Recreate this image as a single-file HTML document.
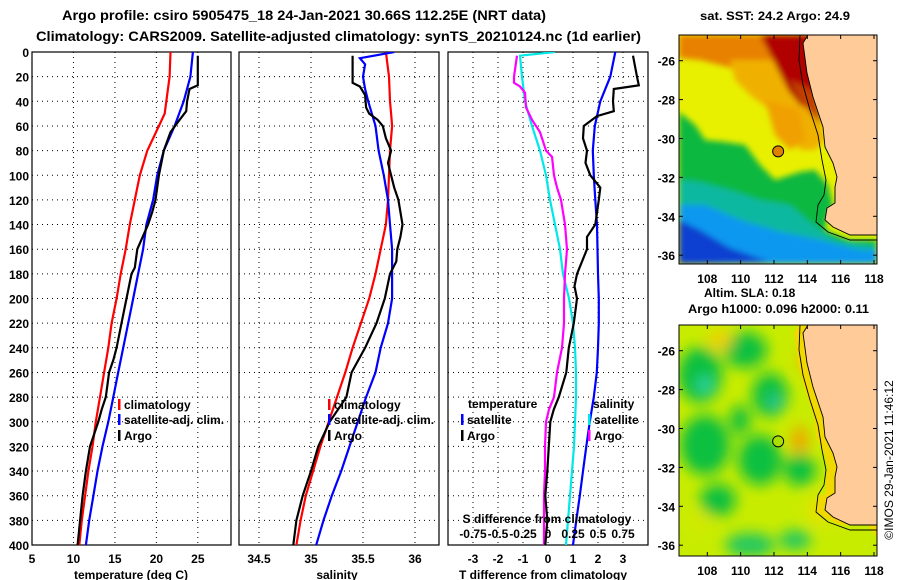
<!DOCTYPE html>
<html><head><meta charset="utf-8">
<style>
html,body{margin:0;padding:0;background:#fff;}
svg{display:block;font-family:"Liberation Sans",Arial,sans-serif;font-weight:bold;}
</style></head>
<body>
<svg id="fig" width="900" height="580" viewBox="0 0 900 580" xmlns="http://www.w3.org/2000/svg">
<defs>
<clipPath id="c1"><rect x="679" y="35" width="198" height="229"/></clipPath>
<clipPath id="c2"><rect x="679" y="325" width="198" height="231"/></clipPath>
<filter id="blur" x="-20%" y="-20%" width="140%" height="140%"><feGaussianBlur stdDeviation="7"/></filter>
<filter id="blur2" x="-20%" y="-20%" width="140%" height="140%"><feGaussianBlur stdDeviation="3"/></filter>
<clipPath id="p1c"><rect x="32" y="52" width="199" height="493"/></clipPath>
<clipPath id="p2c"><rect x="239" y="52" width="200" height="493"/></clipPath>
<clipPath id="p3c"><rect x="448" y="52" width="200" height="493"/></clipPath>
</defs>
<text x="62" y="20" font-size="14" textLength="484" lengthAdjust="spacingAndGlyphs">Argo profile: csiro 5905475_18 24-Jan-2021 30.66S 112.25E (NRT data)</text>
<text x="36" y="41" font-size="14" textLength="605" lengthAdjust="spacingAndGlyphs">Climatology: CARS2009. Satellite-adjusted climatology: synTS_20210124.nc (1d earlier)</text>
<text x="700" y="20" font-size="12" textLength="150" lengthAdjust="spacingAndGlyphs">sat. SST: 24.2 Argo: 24.9</text>
<text x="704" y="297" font-size="12">Altim. SLA: 0.18</text>
<text x="688" y="313" font-size="12" textLength="181" lengthAdjust="spacingAndGlyphs">Argo h1000: 0.096 h2000: 0.11</text>
<text transform="translate(893,460) rotate(-90)" text-anchor="middle" font-size="12" font-weight="normal">©IMOS 29-Jan-2021 11:46:12</text>
<g id="g1"></g><g id="g2"></g><g id="g3"></g><g id="maps"></g>
</svg>
<script>
// ---- Data ----
const depthTicks = [0,20,40,60,80,100,120,140,160,180,200,220,240,260,280,300,320,340,360,380,400];
const tempTicks = [5,10,15,20,25];
const salTicks = [34.5,35,35.5,36];
const tdiffTicks = [-3,-2,-1,0,1,2,3];
const sdiffTicks = [-0.75,-0.5,-0.25,0,0.25,0.5,0.75];
const sdiffTickLabels = ["-0.75","-0.5","-0.25","0","0.25","0.5","0.75"];

const climDepth = [0,20,40,50,60,80,100,120,140,160,180,200,220,240,260,280,300,320,340,360,380,400];
const climTemp = [21.7,21.6,21.2,21.0,20.3,18.9,18.0,17.4,16.8,16.3,15.7,15.2,14.6,14.2,13.7,13.2,12.7,12.3,11.8,11.4,11.0,10.7];
const climSal = [35.72,35.75,35.76,35.77,35.78,35.76,35.75,35.74,35.72,35.67,35.62,35.56,35.48,35.40,35.33,35.25,35.17,35.09,35.02,34.95,34.90,34.86];

const satTempDepth = [0,20,40,60,80,100,120,140,160,180,200,220,240,260,280,300,320,340,360,380,400];
const satTemp = [24.4,24.1,23.3,22.2,20.9,20.1,19.6,18.8,18.4,17.8,17.2,16.6,16.0,15.4,14.8,14.2,13.5,12.9,12.4,11.9,11.5];
const argoTempDepth = [3,27,30,40,48,55,65,80,100,120,130,140,160,175,180,200,220,240,250,260,280,290,300,320,340,360,380,400];
const argoTemp = [25.0,25.0,24.0,23.7,23.6,22.8,21.7,20.9,20.3,19.9,19.5,19.0,17.7,17.4,17.0,16.4,15.8,15.2,14.8,14.3,13.9,13.4,13.0,12.0,11.5,11.1,10.8,10.5];

const satSalDepth = [0,5,10,20,30,40,60,80,100,120,140,160,180,200,220,240,260,280,300,320,340,360,380,400];
const satSal = [35.80,35.47,35.52,35.50,35.52,35.55,35.62,35.65,35.70,35.74,35.76,35.78,35.78,35.78,35.74,35.67,35.62,35.53,35.45,35.37,35.29,35.20,35.12,35.05];
const argoSalDepth = [3,25,28,35,45,50,55,60,70,80,90,100,110,120,140,150,160,170,180,200,220,240,260,280,300,320,340,360,380,400];
const argoSal = [35.40,35.40,35.47,35.52,35.53,35.56,35.64,35.69,35.72,35.77,35.74,35.77,35.80,35.84,35.88,35.86,35.83,35.82,35.76,35.71,35.63,35.52,35.39,35.34,35.18,35.07,35.00,34.92,34.86,34.83];

const satTdiffDepth = [0,20,40,60,80,100,120,140,160,180,200,220,240,260,280,300,320,340,360,380,400];
const satTdiff = [2.69,2.49,2.09,1.87,1.79,1.83,1.89,1.96,1.98,2.0,2.03,2.03,2.0,1.95,1.83,1.67,1.53,1.40,1.27,1.13,1.0];
const argoTdiffDepth = [3,20,27,30,40,48,52,60,70,80,90,100,110,120,140,150,160,180,190,200,220,240,260,280,290,300,320,340,360,380,400];
const argoTdiff = [3.4,3.56,3.63,2.63,2.6,2.63,1.96,1.43,1.4,1.56,1.5,1.69,2.09,2.03,1.89,1.56,1.56,1.16,1.06,1.16,1.03,0.83,0.73,0.43,0.23,0.09,0.03,-0.03,-0.11,-0.03,-0.11];
const satSdiffDepth = [0,3,20,40,60,80,100,120,140,160,180,200,220,240,260,280,300,320,340,360,380,400];
const satSdiff = [0.07,-0.28,-0.26,-0.23,-0.16,-0.08,-0.02,0.02,0.07,0.12,0.15,0.21,0.25,0.27,0.28,0.28,0.27,0.26,0.24,0.22,0.20,0.18];
const argoSdiffDepth = [3,20,25,28,33,45,50,55,65,80,85,100,110,120,140,160,180,200,220,240,260,280,290,300,320,340,360,380,400];
const argoSdiff = [-0.31,-0.34,-0.34,-0.28,-0.23,-0.22,-0.19,-0.16,-0.08,-0.02,0.04,0.06,0.09,0.13,0.17,0.19,0.17,0.16,0.16,0.14,0.09,0.06,0.01,-0.02,-0.03,-0.03,-0.04,-0.04,-0.04];

const lonTicks = [108,110,112,114,116,118];
const latTicks = [-26,-28,-30,-32,-34,-36];
const argoLon = 112.25, argoLat = -30.66;

// ---- Helpers ----
const NS = "http://www.w3.org/2000/svg";
function mk(tag, parent, attrs){
  const e = document.createElementNS(NS, tag);
  for (const k in attrs) e.setAttribute(k, attrs[k]);
  parent.appendChild(e);
  return e;
}
const Y0 = 52, Y1 = 545;
function yD(d){ return Y0 + d/400*(Y1-Y0); }
function linScale(d0,d1,r0,r1){ return v => r0 + (v-d0)/(d1-d0)*(r1-r0); }

function frame(g, x0, x1, name, ticks, xs, tickLabels, yLabels){
  for (const d of depthTicks){
    const l = mk('line', g, {x1:x0, x2:x1, y1:yD(d), y2:yD(d), stroke:'#000', 'stroke-width':1, 'stroke-dasharray':'1,4'});
    
    
    if (yLabels){
      const t = mk('text', g, {x:x0-3, y:yD(d)+5, 'text-anchor':'end', 'font-size':12});
      t.textContent = d;
      
      
    }
  }
  ticks.forEach((v,i) => {
    const x = xs(v);
    const l = mk('line', g, {x1:x, x2:x, y1:Y0, y2:Y1, stroke:'#000', 'stroke-width':1, 'stroke-dasharray':'1,4'});
    
    
    const t = mk('text', g, {x:x, y:563, 'text-anchor':'middle', 'font-size':12});
    t.textContent = tickLabels[i];
    
    
  });
  const r = mk('rect', g, {x:x0, y:Y0, width:x1-x0, height:Y1-Y0, fill:'none', stroke:'#000', 'stroke-width':1.2});
  
  
}
function series(g, depths, vals, xs, color, name, clipId){
  const pts = depths.map((d,i) => xs(vals[i]).toFixed(1) + ',' + yD(d).toFixed(1)).join(' ');
  const p = mk('polyline', g, {points:pts, fill:'none', stroke:color, 'stroke-width':2.2, 'clip-path':'url(#'+clipId+')'});
  
  
}
function legendItem(g, x, y, color, label, name){
  const b = mk('rect', g, {x:x, y:y-10, width:2.5, height:11, fill:color});
  
  
  const t = mk('text', g, {x:x+6, y:y, 'font-size':12});
  t.textContent = label;
  
  
}
function axisTitle(g, x, y, txt, name){
  const t = mk('text', g, {x:x, y:y, 'text-anchor':'middle', 'font-size':12});
  t.textContent = txt;
  
  
}

// ---- Panel 1: temperature ----
const g1 = document.getElementById('g1');
const xT = linScale(5, 29, 32, 231);
frame(g1, 32, 231, 'temperature-panel', tempTicks, xT, tempTicks, true);
series(g1, climDepth, climTemp, xT, '#ff0000', 'temp-climatology-line', 'p1c');
series(g1, satTempDepth, satTemp, xT, '#0000ff', 'temp-satellite-line', 'p1c');
series(g1, argoTempDepth, argoTemp, xT, '#000000', 'temp-argo-line', 'p1c');
legendItem(g1, 118, 409, '#ff0000', 'climatology', 'temp-legend-climatology');
legendItem(g1, 118, 424, '#0000ff', 'satellite-adj. clim.', 'temp-legend-satellite');
legendItem(g1, 118, 440, '#000000', 'Argo', 'temp-legend-argo');
axisTitle(g1, 131, 579, 'temperature (deg C)', 'temperature-axis-title');

// ---- Panel 2: salinity ----
const g2 = document.getElementById('g2');
const xS = linScale(34.5, 36, 259, 415);
frame(g2, 239, 439, 'salinity-panel', salTicks, xS, salTicks, false);
series(g2, climDepth, climSal, xS, '#ff0000', 'sal-climatology-line', 'p2c');
series(g2, satSalDepth, satSal, xS, '#0000ff', 'sal-satellite-line', 'p2c');
series(g2, argoSalDepth, argoSal, xS, '#000000', 'sal-argo-line', 'p2c');
legendItem(g2, 328, 409, '#ff0000', 'climatology', 'sal-legend-climatology');
legendItem(g2, 328, 424, '#0000ff', 'satellite-adj. clim.', 'sal-legend-satellite');
legendItem(g2, 328, 440, '#000000', 'Argo', 'sal-legend-argo');
axisTitle(g2, 337, 579, 'salinity', 'salinity-axis-title');

// ---- Panel 3: differences ----
const g3 = document.getElementById('g3');
const xTd = linScale(-4, 4, 448, 648);
const xSd = linScale(-1, 1, 448, 648);
frame(g3, 448, 648, 'difference-panel', tdiffTicks, xTd, tdiffTicks, false);
series(g3, satTdiffDepth, satTdiff, xTd, '#0000ff', 'tdiff-satellite-line', 'p3c');
series(g3, satSdiffDepth, satSdiff, xSd, '#00e8e8', 'sdiff-satellite-line', 'p3c');
series(g3, argoSdiffDepth, argoSdiff, xSd, '#ff00ff', 'sdiff-argo-line', 'p3c');
series(g3, argoTdiffDepth, argoTdiff, xTd, '#000000', 'tdiff-argo-line', 'p3c');
{
  const t = mk('text', g3, {x:468, y:408, 'font-size':12}); t.textContent='temperature';
  
  
  const s = mk('text', g3, {x:593, y:408, 'font-size':12}); s.textContent='salinity';
  
  
}
legendItem(g3, 461, 424, '#0000ff', 'satellite', 'tdiff-legend-satellite');
legendItem(g3, 461, 440, '#000000', 'Argo', 'tdiff-legend-argo');
legendItem(g3, 588, 424, '#00e8e8', 'satellite', 'sdiff-legend-satellite');
legendItem(g3, 588, 440, '#ff00ff', 'Argo', 'sdiff-legend-argo');
axisTitle(g3, 547, 523, 'S difference from climatology', 'sdiff-axis-title');
sdiffTicks.forEach((v,i) => {
  const t = mk('text', g3, {x:xSd(v), y:538, 'text-anchor':'middle', 'font-size':12});
  t.textContent = sdiffTickLabels[i];
  
  
});
axisTitle(g3, 543, 579, 'T difference from climatology', 'tdiff-axis-title');

// ---- Maps ----
const gm = document.getElementById('maps');
const lonX = linScale(108, 118, 707.3, 874);
function latY(lat, off){ return off + 60.7 + (-26 - lat)*19.45; }
const coastLine = [[808,35],[803,43],[807,73],[813,97],[823,127],[825,147],[833,163],[837,177],[835,187],[835,203],[827,208],[825,220],[833,227],[850,235],[877,235]];
const coast = coastLine.concat([[877,35]]);
const isobath = [[800,35],[799,60],[803,85],[810,110],[818,135],[822,160],[826,180],[824,195],[818,205],[816,222],[828,232],[850,240],[877,240]];
function poly(g, pts, off, fill, name, extra){
  const p = mk('polygon', g, Object.assign({points: pts.map(q => q[0]+','+(q[1]+off)).join(' '), fill: fill}, extra||{}));
  
  
  return p;
}
function pline(g, pts, off, name){
  const p = mk('polyline', g, {points: pts.map(q => q[0]+','+(q[1]+off)).join(' '), fill:'none', stroke:'#000', 'stroke-width':0.9});
  
  
}
function mapAxes(off, top, bot, name){
  const r = mk('rect', gm, {x:679, y:top, width:198, height:bot-top, fill:'none', stroke:'#000', 'stroke-width':1});
  
  
  for (const lo of lonTicks){
    const x = lonX(lo);
    mk('line', gm, {x1:x, x2:x, y1:top, y2:top+4, stroke:'#000'});
    mk('line', gm, {x1:x, x2:x, y1:bot, y2:bot-4, stroke:'#000'});
    const t = mk('text', gm, {x:x, y:bot+19, 'text-anchor':'middle', 'font-size':12});
    t.textContent = lo;
    
    
  }
  for (const la of latTicks){
    const y = latY(la, off);
    mk('line', gm, {x1:679, x2:683, y1:y, y2:y, stroke:'#000'});
    mk('line', gm, {x1:877, x2:873, y1:y, y2:y, stroke:'#000'});
    const t = mk('text', gm, {x:675, y:y+5, 'text-anchor':'end', 'font-size':12});
    t.textContent = la;
    
    
  }
  const c = mk('circle', gm, {cx:lonX(argoLon), cy:latY(argoLat, off), r:5.5, fill: off ? '#a8e000' : '#e08000', stroke:'#000', 'stroke-width':1});
  
  
}
// SST map
{
  const g = mk('g', gm, {'clip-path':'url(#c1)'});
  
  
  mk('rect', g, {x:679, y:35, width:198, height:229, fill:'#e8f000'});
  const s = mk('g', g, {filter:'url(#blur2)'});
  poly(s, [[679,35],[810,35],[810,60],[760,62],[740,70],[700,60],[679,58]], 0, '#e88000', 'sst-orange-top');
  poly(s, [[730,60],[790,60],[815,95],[825,140],[815,150],[800,150],[790,130],[770,110],[750,95],[735,80]], 0, '#f0b000', 'sst-warm-region');
  poly(s, [[765,100],[800,110],[805,140],[790,150],[775,135]], 0, '#f0a000', 'sst-warm-patch');
  poly(s, [[760,35],[812,35],[818,90],[812,110],[800,105],[788,90],[778,70],[768,50]], 0, '#b00000', 'sst-hot-region');
  poly(s, [[790,80],[816,92],[822,125],[812,115],[800,100]], 0, '#c04000', 'sst-coastal-warm');
  poly(s, [[679,112],[695,125],[705,140],[725,142],[745,145],[760,165],[775,180],[800,172],[815,170],[828,185],[833,205],[828,215],[825,230],[850,240],[877,240],[877,264],[679,264]], 0, '#10b840', 'sst-green-region');
  poly(s, [[679,180],[700,182],[730,190],[760,200],[790,205],[810,222],[835,240],[877,246],[877,264],[679,264]], 0, '#10b8a0', 'sst-teal-region');
  poly(s, [[679,205],[705,205],[740,220],[780,232],[820,240],[860,250],[877,250],[877,264],[679,264]], 0, '#1098f0', 'sst-cyan-region');
  poly(s, [[679,220],[700,230],[730,248],[770,262],[679,264]], 0, '#1040d0', 'sst-blue-region');
  poly(g, coast, 0, '#ffcc99', 'sst-land');
  pline(g, isobath, 0, 'sst-isobath');
  pline(g, coastLine, 0, 'sst-coastline');
}
mapAxes(0, 35, 264, 'sst-map');
// SLA map
{
  const off = 290;
  const g = mk('g', gm, {'clip-path':'url(#c2)'});
  
  
  mk('rect', g, {x:679, y:325, width:198, height:231, fill:'#c8ec00'});
  const blobs = g.appendChild(document.createElementNS(NS,'g'));
  blobs.setAttribute('filter', 'url(#blur)');
  const bl = [[700,375,22,28,'#10c040'],[705,445,25,30,'#10c040'],[745,350,22,18,'#10c040'],[770,395,18,22,'#10c040'],[760,460,22,25,'#10c040'],[718,500,18,16,'#10c040'],[750,545,25,12,'#20c860'],[800,470,16,16,'#10c040'],[795,540,16,10,'#20c860'],[740,420,10,15,'#10c040'],[705,385,7,8,'#30d8b0'],[775,402,7,7,'#30c8a0'],[800,440,8,14,'#f0a000'],[805,360,5,14,'#f0b000'],[700,520,10,8,'#d8e800'],[820,510,12,14,'#e8e000'],[720,340,12,10,'#f0d000']];
  for (const b of bl){
    const e = mk('ellipse', blobs, {cx:b[0], cy:b[1], rx:b[2], ry:b[3], fill:b[4]});
    
    
  }
  poly(g, coastLine.map(q=>[q[0]-9,q[1]]).concat([[877,248],[877,35]]), off, '#f0d800', 'sla-shelf');
  poly(g, coast, off, '#ffcc99', 'sla-land');
  pline(g, isobath, off, 'sla-isobath');
  pline(g, coastLine, off, 'sla-coastline');
}
mapAxes(290, 325, 556, 'sla-map');
</script>
</body></html>
